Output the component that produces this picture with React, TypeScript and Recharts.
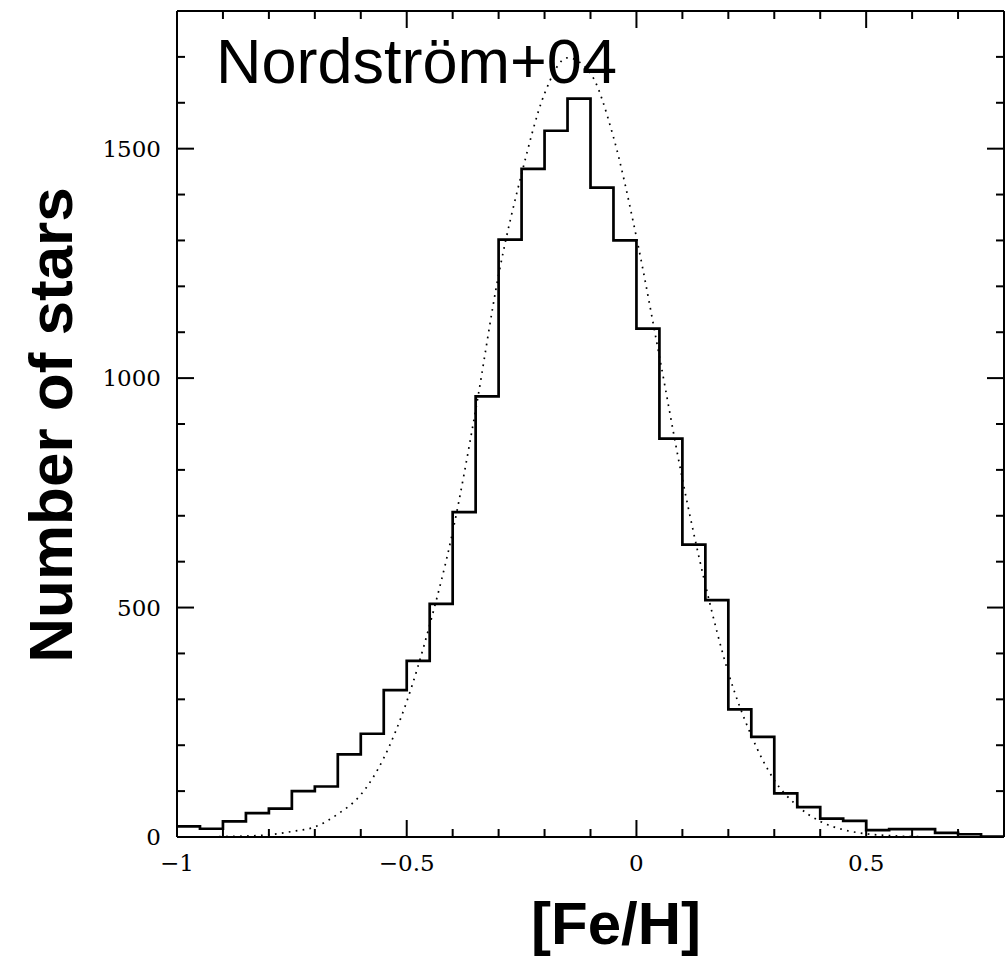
import React from "react";
import { ComposedChart, Line, XAxis, YAxis } from "recharts";

// left edges of the 0.05 dex bins (last entry closes the final bin)
const feh = [
  -1, -0.95, -0.9, -0.85, -0.8, -0.75, -0.7, -0.65, -0.6, -0.55, -0.5, -0.45,
  -0.4, -0.35, -0.3, -0.25, -0.2, -0.15, -0.1, -0.05, 0, 0.05, 0.1, 0.15, 0.2,
  0.25, 0.3, 0.35, 0.4, 0.45, 0.5, 0.55, 0.6, 0.65, 0.7, 0.75, 0.8,
];

// histogram counts per bin
const counts = [
  23, 18, 34, 52, 62, 100, 110, 180, 225, 320, 384, 508, 708, 960, 1302, 1456,
  1539, 1609, 1415, 1300, 1108, 868, 637, 516, 278, 218, 95, 65, 40, 35, 15, 17,
  17, 9, 6, 1, 1,
];

// dotted gaussian fit, read at the same abscissae
const fit = [
  0, 0, 1, 2, 5, 12, 22, 50, 92, 172, 295, 462, 665, 930, 1225, 1445, 1620,
  1698, 1664, 1525, 1307, 1047, 780, 550, 358, 221, 124, 68, 34, 16, 7, 3, 1, 0,
  0, 0, 0,
];

const xTicks = [
  -1, -0.9, -0.8, -0.7, -0.6, -0.5, -0.4, -0.3, -0.2, -0.1, 0, 0.1, 0.2, 0.3,
  0.4, 0.5, 0.6, 0.7, 0.8,
];
const yTicks = [
  0, 100, 200, 300, 400, 500, 600, 700, 800, 900, 1000, 1100, 1200, 1300, 1400,
  1500, 1600, 1700, 1800,
];

const title = "Nordström+04";
const xTitle = "[Fe/H]";
const yTitle = "Number of stars";

const data = feh.map((x, i) => ({ x, n: counts[i], fit: fit[i] }));

const isMajorX = (v: number) => Math.abs(v * 2 - Math.round(v * 2)) < 1e-6;
const isMajorY = (v: number) => v % 500 === 0;
const fmt = (v: number) => String(v).replace("-", "\u2212");

const tickFont = "'DejaVu Serif', serif";
const sw = 2;

// bottom axis: tick mark pointing up into the plot, plus label below
const BottomTick = (props: any) => {
  const { x, y, payload } = props;
  const major = isMajorX(payload.value);
  const len = major ? 17 : 8;
  return (
    <g>
      <path d={`M${x},${y}V${y - len}`} stroke="#000" strokeWidth={sw} fill="none" />
      {major && (
        <text x={x} y={y + 34} textAnchor="middle" fontFamily={tickFont} fontSize={23} fill="#000">
          {fmt(payload.value)}
        </text>
      )}
    </g>
  );
};

// top axis: tick mark pointing down into the plot
const TopTick = (props: any) => {
  const { x, y, payload } = props;
  const len = isMajorX(payload.value) ? 17 : 8;
  return (
    <g>
      <path d={`M${x},${y}V${y + len}`} stroke="#000" strokeWidth={sw} fill="none" />
      <text x={x} y={y} fontSize={1} fill="transparent">
        {" "}
      </text>
    </g>
  );
};

const LeftTick = (props: any) => {
  const { x, y, payload } = props;
  const major = isMajorY(payload.value);
  return (
    <g>
      <line x1={x} x2={x + (major ? 17 : 8)} y1={y} y2={y} stroke="#000" strokeWidth={sw} />
      {major && (
        <text x={x - 16} y={y + 8} textAnchor="end" fontFamily={tickFont} fontSize={23} fill="#000">
          {payload.value}
        </text>
      )}
    </g>
  );
};

const RightTick = (props: any) => {
  const { x, y, payload } = props;
  const major = isMajorY(payload.value);
  return (
    <g>
      <line x1={x} x2={x - (major ? 17 : 8)} y1={y} y2={y} stroke="#000" strokeWidth={sw} />
    </g>
  );
};

const App: React.FC = () => {
  return (
    <div style={{ position: "absolute", left: 0, top: 0, width: 1007, height: 960, background: "#fff" }}>
      <ComposedChart
        width={1007}
        height={960}
        data={data}
        margin={{ top: 1, right: 0, bottom: 0, left: 0 }}
      >
        <XAxis
          xAxisId="bottom"
          dataKey="x"
          type="number"
          domain={[-1, 0.8]}
          allowDataOverflow
          ticks={xTicks}
          interval={0}
          tickSize={0}
          tickMargin={0}
          tickLine={false}
          tick={<BottomTick />}
          height={123}
          axisLine={{ stroke: "#000", strokeWidth: sw }}
        />
        <XAxis
          xAxisId="top"
          orientation="top"
          dataKey="x"
          type="number"
          domain={[-1, 0.8]}
          allowDataOverflow
          ticks={xTicks}
          interval={0}
          tickSize={0}
          tickMargin={0}
          tickLine={false}
          tick={<TopTick />}
          height={10}
          axisLine={{ stroke: "#000", strokeWidth: sw }}
        />
        <YAxis
          yAxisId="left"
          type="number"
          domain={[0, 1800]}
          allowDataOverflow
          ticks={yTicks}
          interval={0}
          tickSize={0}
          tickMargin={0}
          tickLine={false}
          tick={<LeftTick />}
          width={177}
          axisLine={{ stroke: "#000", strokeWidth: sw }}
        />
        <YAxis
          yAxisId="right"
          orientation="right"
          type="number"
          domain={[0, 1800]}
          allowDataOverflow
          ticks={yTicks}
          interval={0}
          tickSize={0}
          tickMargin={0}
          tickLine={false}
          tick={<RightTick />}
          width={3}
          axisLine={{ stroke: "#000", strokeWidth: sw }}
        />
        {/* invisible series that keep the top and right frame axes bound to data */}
        <Line
          xAxisId="top"
          yAxisId="left"
          dataKey="n"
          stroke="transparent"
          dot={false}
          activeDot={false}
          isAnimationActive={false}
        />
        <Line
          xAxisId="bottom"
          yAxisId="right"
          dataKey="n"
          stroke="transparent"
          dot={false}
          activeDot={false}
          isAnimationActive={false}
        />
        <Line
          xAxisId="bottom"
          yAxisId="left"
          type="monotone"
          dataKey="fit"
          stroke="#000"
          strokeWidth={1.7}
          strokeDasharray="1.7 5.3"
          dot={false}
          activeDot={false}
          isAnimationActive={false}
        />
        <Line
          xAxisId="bottom"
          yAxisId="left"
          type="stepAfter"
          dataKey="n"
          stroke="#000"
          strokeWidth={2.7}
          dot={false}
          activeDot={false}
          isAnimationActive={false}
        />
      </ComposedChart>
      <svg
        width={1007}
        height={960}
        style={{ position: "absolute", left: 0, top: 0, pointerEvents: "none" }}
      >
        <text x={216} y={83} fontFamily="'Liberation Sans', Arial, sans-serif" fontSize={63} fill="#000">
          {title}
        </text>
        <text
          x={616}
          y={944}
          textAnchor="middle"
          fontFamily="'Liberation Sans', Arial, sans-serif"
          fontWeight="bold"
          fontSize={60}
          fill="#000"
        >
          {xTitle}
        </text>
        <text
          x={72}
          y={425}
          transform="rotate(-90 72 425)"
          textAnchor="middle"
          fontFamily="'Liberation Sans', Arial, sans-serif"
          fontWeight="bold"
          fontSize={62}
          fill="#000"
        >
          {yTitle}
        </text>
      </svg>
    </div>
  );
};

export default App;
